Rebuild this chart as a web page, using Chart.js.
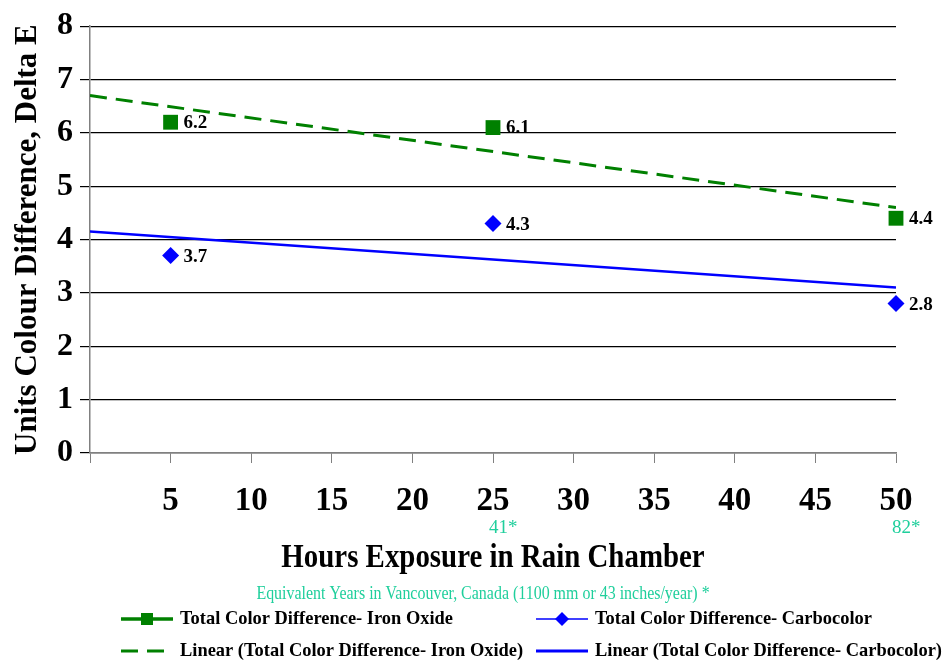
<!DOCTYPE html>
<html lang="en">
<head>
<meta charset="UTF-8" />
<title>Colour Difference - Rain Chamber</title>
<script src="https://cdn.jsdelivr.net/npm/chart.js"></script>
<style>
  html, body { margin: 0; padding: 0; background: #fff; }
</style>
</head>
<body>
<canvas id="colourChart" width="946" height="660"></canvas>
<script>
const hours = [5, 25, 50];
const ironOxide = [6.2, 6.1, 4.4];
const carbocolor = [3.7, 4.3, 2.8];

// trend line end points
const trendHours = [0, 50];
const ironOxideTrend = [6.7, 4.6];
const carbocolorTrend = [4.15, 3.1];

const seriesNames = [
  'Total Color Difference- Iron Oxide',
  'Total Color Difference- Carbocolor',
  'Linear (Total Color Difference- Iron Oxide)',
  'Linear (Total Color Difference- Carbocolor)'
];

const equivHours = [25, 50];
const equivLabels = ['41*', '82*'];

const GREEN = '#008000';
const BLUE = '#0000ff';
const TEAL = '#1fcf9c';
const SERIF = "'Liberation Serif', 'Times New Roman', serif";

function toPoints(xs, ys) {
  return xs.map((x, i) => ({ x: x, y: ys[i] }));
}

// some of the text in the original is narrower than the font, squeeze it sideways
function squeezedText(ctx, text, x, y, align, sx) {
  ctx.save();
  ctx.translate(x, y);
  ctx.scale(sx, 1);
  ctx.textAlign = align;
  ctx.fillText(text, 0, 0);
  ctx.restore();
}

const extras = {
  id: 'extras',
  afterDatasetsDraw(chart) {
    const ctx = chart.ctx;
    ctx.save();
    ctx.font = 'bold 19px ' + SERIF;
    ctx.fillStyle = '#000';
    ctx.textAlign = 'left';
    ctx.textBaseline = 'middle';
    [0, 1].forEach(di => {
      const ds = chart.data.datasets[di];
      chart.getDatasetMeta(di).data.forEach((pt, i) => {
        ctx.fillText(ds.data[i].y.toFixed(1), pt.x + 13, pt.y + 1);
      });
    });
    ctx.restore();
  },
  afterDraw(chart) {
    const ctx = chart.ctx;
    const area = chart.chartArea;
    const xs = chart.scales.x;
    const mid = (area.left + area.right) / 2;
    ctx.save();
    ctx.textBaseline = 'middle';

    // equivalent years under the 25 and 50 hour ticks
    ctx.fillStyle = TEAL;
    ctx.font = '19px ' + SERIF;
    equivHours.forEach((h, i) => {
      squeezedText(ctx, equivLabels[i], xs.getPixelForValue(h) - 4, 528, 'left', 1);
    });

    ctx.fillStyle = '#000';
    ctx.font = 'bold 34px ' + SERIF;
    squeezedText(ctx, 'Hours Exposure in Rain Chamber', mid, 558, 'center', 0.85);

    ctx.fillStyle = TEAL;
    ctx.font = '19px ' + SERIF;
    squeezedText(ctx, 'Equivalent Years in Vancouver, Canada (1100 mm or 43 inches/year) *', mid - 10, 594, 'center', 0.84);

    // legend, two columns
    const cols = [121, 536];
    const rows = [619, 651];
    chart.data.datasets.forEach((ds, i) => {
      const x0 = cols[i % 2];
      const y = rows[Math.floor(i / 2)];
      ctx.save();
      ctx.strokeStyle = ds.borderColor;
      ctx.lineWidth = ds.legendLineWidth;
      ctx.setLineDash(ds.borderDash || []);
      ctx.beginPath();
      ctx.moveTo(x0, y);
      ctx.lineTo(x0 + 52, y);
      ctx.stroke();
      ctx.restore();
      if (ds.pointRadius > 0) {
        ctx.fillStyle = ds.backgroundColor;
        ctx.strokeStyle = ds.borderColor;
        Chart.helpers.drawPoint(ctx, {
          pointStyle: ds.pointStyle,
          radius: ds.legendPointRadius,
          rotation: 0,
          borderWidth: 0
        }, x0 + 26, y);
      }
      ctx.fillStyle = '#000';
      ctx.font = 'bold 19px ' + SERIF;
      squeezedText(ctx, ds.label, x0 + 59, y, 'left', 0.97);
    });
    ctx.restore();
  }
};

new Chart(document.getElementById('colourChart'), {
  type: 'scatter',
  data: {
    datasets: [
      {
        label: seriesNames[0],
        data: toPoints(hours, ironOxide),
        showLine: false,
        clip: false,
        pointStyle: 'rect',
        pointRadius: 10.5,
        pointBorderWidth: 0,
        backgroundColor: GREEN,
        borderColor: GREEN,
        legendLineWidth: 3.5,
        legendPointRadius: 8.5
      },
      {
        label: seriesNames[1],
        data: toPoints(hours, carbocolor),
        showLine: false,
        clip: false,
        pointStyle: 'rectRot',
        pointRadius: 8.5,
        pointBorderWidth: 0,
        backgroundColor: BLUE,
        borderColor: BLUE,
        legendLineWidth: 1.5,
        legendPointRadius: 7
      },
      {
        label: seriesNames[2],
        type: 'line',
        data: toPoints(trendHours, ironOxideTrend),
        borderColor: GREEN,
        backgroundColor: GREEN,
        borderWidth: 3,
        borderDash: [17, 9],
        pointRadius: 0,
        fill: false,
        legendLineWidth: 3
      },
      {
        label: seriesNames[3],
        type: 'line',
        data: toPoints(trendHours, carbocolorTrend),
        borderColor: BLUE,
        backgroundColor: BLUE,
        borderWidth: 2.5,
        pointRadius: 0,
        fill: false,
        legendLineWidth: 3
      }
    ]
  },
  options: {
    responsive: false,
    animation: false,
    layout: { padding: { top: 22, right: 50, bottom: 87, left: 0 } },
    plugins: {
      legend: { display: false },
      tooltip: { enabled: false }
    },
    scales: {
      x: {
        type: 'linear',
        min: 0,
        max: 50,
        afterFit: s => { s.height = 120; },
        ticks: {
          stepSize: 5,
          padding: 19,
          color: '#000',
          font: { family: SERIF, size: 33, weight: 'bold' },
          callback: v => (v === 0 ? '' : v)
        },
        grid: { drawOnChartArea: false, tickLength: 10, color: '#808080' },
        border: { color: '#808080', width: 1.5 }
      },
      y: {
        min: 0,
        max: 8,
        afterFit: s => { s.width = 90; },
        ticks: {
          stepSize: 1,
          padding: 7,
          color: '#000',
          font: { family: SERIF, size: 32, weight: 'bold' }
        },
        grid: { color: '#000', lineWidth: 1.2, tickLength: 10 },
        border: { color: '#808080', width: 1.5 },
        title: {
          display: true,
          text: 'Units Colour Difference, Delta E',
          color: '#000',
          font: { family: SERIF, size: 31, weight: 'bold' },
          padding: { top: 9, bottom: 0 }
        }
      }
    }
  },
  plugins: [extras]
});
</script>
</body>
</html>
